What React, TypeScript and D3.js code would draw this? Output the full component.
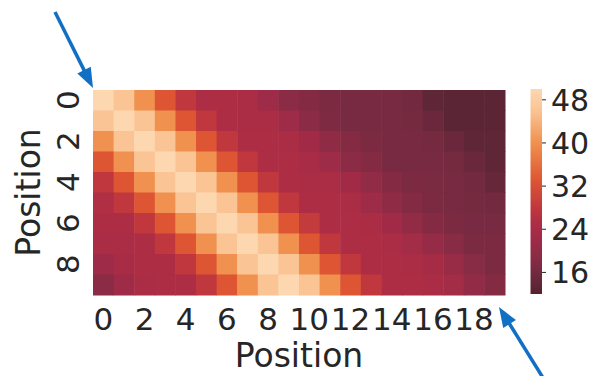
import * as d3 from 'd3';

// heatmap values, one array per row (Position 0..9), 20 columns each
const r0 = [50, 46, 40, 33, 28, 25, 25, 24.5, 22, 19, 18, 17, 16.5, 16.5, 16.5, 16, 13.5, 13, 13, 13];
const r1 = [46, 50, 46, 40, 33, 28, 25, 24.5, 24.5, 22, 19, 17.5, 16.5, 16.5, 16.5, 16.3, 15, 13, 13, 13];
const r2 = [40, 46, 50, 46, 40, 33, 28, 25, 25, 24.5, 22.5, 19.5, 18, 17, 16.5, 16.5, 16.3, 15, 13.5, 13.5];
const r3 = [33, 40, 46, 50, 46, 40, 33, 28, 25, 25, 24, 22, 19, 18, 16.5, 16.5, 16.5, 16.3, 15, 13.5];
const r4 = [28, 33, 40, 46, 50, 46, 40, 33, 28, 25, 24.5, 24.5, 22.5, 20, 18, 17, 16.8, 16.5, 16, 14.5];
const r5 = [25.5, 28, 33, 40, 46, 50, 46, 40, 33, 28, 25, 25, 24.5, 22, 19.5, 18, 17, 16.5, 16.3, 16];
const r6 = [25, 25, 28, 33, 40, 46, 50, 46, 40, 33, 28.5, 25, 25, 24.5, 22.5, 20, 18, 17, 16.5, 16.5];
const r7 = [24.5, 24.5, 25, 28, 33, 40, 46, 50, 46, 40, 33, 28, 25, 25, 24.5, 23, 20.5, 18.5, 17, 17];
const r8 = [22, 24, 25, 25, 28, 33, 40, 46, 50, 46, 40, 33, 28, 25, 25, 24.5, 23.5, 21, 18.5, 17];
const r9 = [19, 22, 24.5, 25, 25, 28, 33, 40, 46, 50, 46, 40, 33, 28, 25, 25, 24.5, 23, 20, 18];
const matrix = [r0, r1, r2, r3, r4, r5, r6, r7, r8, r9];

const rowIds = d3.range(10);
const colIds = d3.range(20);
const xTicks = [0, 2, 4, 6, 8, 10, 12, 14, 16, 18];
const yTicks = [0, 2, 4, 6, 8];
const cbTicks = [16, 24, 32, 40, 48];
const cbDomain = [12, 50];

// colormap (trimmed rocket-like)
const cmapValues = [12, 13, 16.5, 19, 22, 25, 28, 33, 40, 46, 50];
const cmapColors = ['#55222f', '#5b2535', '#772a41', '#8c2b45', '#9e2b47', '#ad2d45', '#c0383d', '#dd5533', '#f0914f', '#fac494', '#fdd7b0'];

const W = 595;
const H = 376;
const TEXT = '#262626';
const FONT = '"DejaVu Sans", sans-serif';
const ARROW = '#1170c4';

function Arrow({ from, to }: { from: [number, number]; to: [number, number] }) {
  const dx = to[0] - from[0];
  const dy = to[1] - from[1];
  const len = Math.hypot(dx, dy);
  const ux = dx / len, uy = dy / len;
  const headLen = 20, headW = 15;
  const bx = to[0] - ux * headLen, by = to[1] - uy * headLen;
  const nx = -uy, ny = ux;
  const pts = [
    [to[0], to[1]],
    [bx + nx * headW / 2, by + ny * headW / 2],
    [bx - nx * headW / 2, by - ny * headW / 2]
  ].map((p) => p.join(',')).join(' ');
  return (
    <g>
      <line x1={from[0]} y1={from[1]} x2={bx + ux * 2} y2={by + uy * 2} stroke={ARROW} strokeWidth={3.5} />
      <polygon points={pts} fill={ARROW} />
    </g>
  );
}

export default function App() {
  const x = d3.scaleBand<number>().domain(colIds).range([93, 505]);
  const y = d3.scaleBand<number>().domain(rowIds).range([90, 295]);
  const color = d3.scaleLinear<string>().domain(cmapValues).range(cmapColors).interpolate(d3.interpolateRgb).clamp(true);
  const cb = d3.scaleLinear().domain(cbDomain).range([294, 89]);

  const gradStops = d3.range(0, 1.0001, 0.02).map((t) => ({
    t,
    c: color(cbDomain[0] + t * (cbDomain[1] - cbDomain[0]))
  }));

  const [x0, x1] = x.range();
  const [y0, y1] = y.range();

  return (
    <svg width={W} height={H} style={{ position: 'absolute', left: 0, top: 0, background: '#fff' }} fontFamily={FONT}>
      <defs>
        <linearGradient id="cbGrad" x1="0" y1="1" x2="0" y2="0">
          {gradStops.map((s) => (
            <stop key={s.t} offset={s.t} stopColor={s.c} />
          ))}
        </linearGradient>
      </defs>

      {/* cells */}
      {matrix.map((row, i) =>
        row.map((v, j) => (
          <rect key={`${i}-${j}`} x={x(j)} y={y(i)} width={x.bandwidth() + 0.5} height={y.bandwidth() + 0.5} fill={color(v)} />
        ))
      )}

      {/* x ticks */}
      {xTicks.map((t) => (
        <text key={t} x={x(t)! + x.bandwidth() / 2} y={330} fontSize={31} textAnchor="middle" fill={TEXT}>
          {t}
        </text>
      ))}
      <text x={(x0 + x1) / 2} y={367} fontSize={33} textAnchor="middle" fill={TEXT}>Position</text>

      {/* y ticks */}
      {yTicks.map((t) => (
        <text key={t} transform={`translate(79,${y(t)! + y.bandwidth() / 2}) rotate(-90)`} fontSize={31} textAnchor="middle" fill={TEXT}>
          {t}
        </text>
      ))}
      <text transform={`translate(40,${(y0 + y1) / 2}) rotate(-90)`} fontSize={33} textAnchor="middle" fill={TEXT}>Position</text>

      {/* colorbar */}
      <rect x={530.5} y={cb.range()[1]} width={11.5} height={cb.range()[0] - cb.range()[1]} fill="url(#cbGrad)" />
      {cbTicks.map((t) => (
        <g key={t}>
          <line x1={542} x2={546} y1={cb(t)} y2={cb(t)} stroke={TEXT} strokeWidth={1} />
          <text x={551} y={cb(t)} dy="0.36em" fontSize={30} fill={TEXT}>{t}</text>
        </g>
      ))}

      {/* arrows */}
      <Arrow from={[x0 - 38, y0 - 78]} to={[x0, y0 - 2]} />
      <Arrow from={[x1 + 40, y1 + 86]} to={[x1 - 6, y1 + 12]} />
    </svg>
  );
}
